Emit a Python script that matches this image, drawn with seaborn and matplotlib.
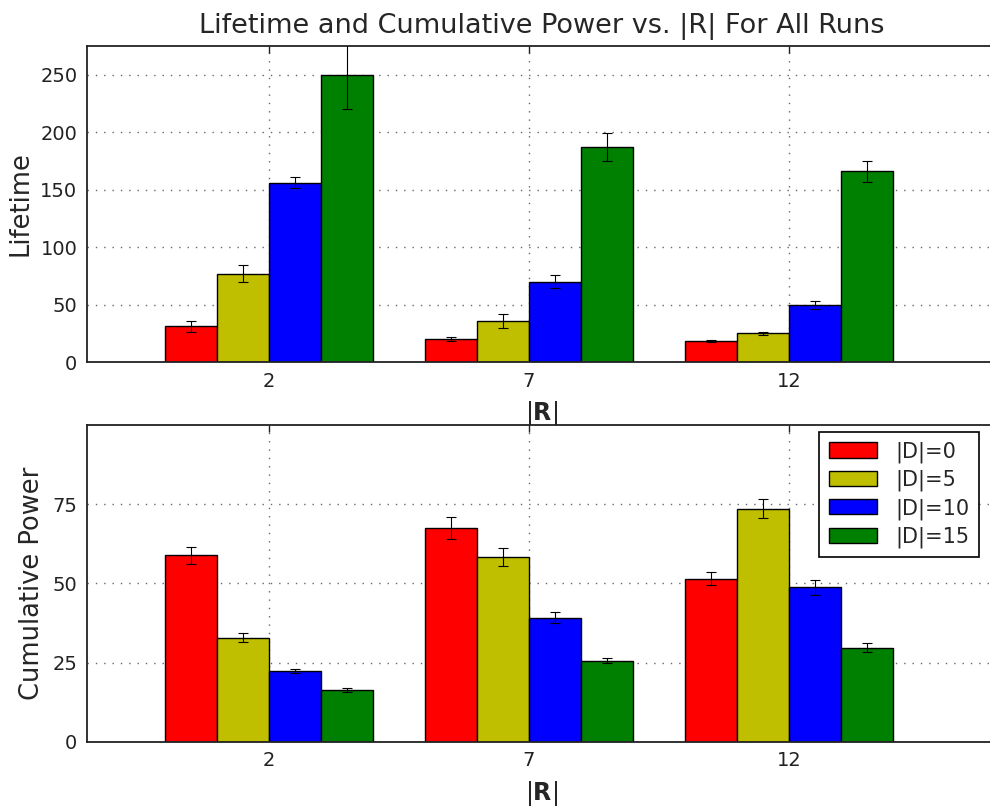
import numpy as np
import pandas as pd
import matplotlib
matplotlib.use("Agg")
import matplotlib.pyplot as plt
import seaborn as sns

# ---- data ----
r_values = [2, 7, 12]
d_labels = ["|D|=0", "|D|=5", "|D|=10", "|D|=15"]
colors = ["#ff0000", "#bfbf00", "#0000ff", "#008000"]

lifetime = {
    "|D|=0": [31, 20, 18],
    "|D|=5": [77, 36, 25],
    "|D|=10": [156, 70, 50],
    "|D|=15": [250, 187, 166],
}
lifetime_err = {
    "|D|=0": [4.5, 1.5, 1.0],
    "|D|=5": [7.4, 6.0, 1.5],
    "|D|=10": [4.6, 5.5, 3.5],
    "|D|=15": [30, 12, 9],
}
power = {
    "|D|=0": [58.8, 67.4, 51.5],
    "|D|=5": [32.9, 58.3, 73.6],
    "|D|=10": [22.3, 39.1, 48.7],
    "|D|=15": [16.3, 25.5, 29.7],
}
power_err = {
    "|D|=0": [2.7, 3.4, 2.0],
    "|D|=5": [1.5, 2.8, 3.1],
    "|D|=10": [0.6, 1.7, 2.3],
    "|D|=15": [0.5, 0.8, 1.4],
}

rows = []
for d in d_labels:
    for i, r in enumerate(r_values):
        rows.append({"R": r, "D": d,
                     "Lifetime": lifetime[d][i], "LifetimeErr": lifetime_err[d][i],
                     "Power": power[d][i], "PowerErr": power_err[d][i]})
df = pd.DataFrame(rows)

sns.set_style("white")
plt.rcParams["font.family"] = ["DejaVu Sans"]
plt.rcParams["mathtext.fontset"] = "dejavusans"

fig = plt.figure(figsize=(9.9, 8.06), dpi=100)
ax1 = fig.add_axes([87 / 990, 1 - 362 / 806, 910 / 990, 316 / 806])
ax2 = fig.add_axes([87 / 990, 1 - 741.7 / 806, 910 / 990, 316.7 / 806])

palette = dict(zip(d_labels, colors))


def draw(ax, ycol, ecol, legend):
    sns.barplot(data=df, x="R", y=ycol, hue="D", hue_order=d_labels,
                palette=palette, native_scale=True, width=0.8, dodge=True,
                saturation=1, edgecolor="black", linewidth=1.0,
                errorbar=None, legend=legend, ax=ax, zorder=2)
    for d, cont in zip(d_labels, ax.containers):
        sub = df[df["D"] == d].sort_values("R")
        bars = sorted(cont.patches, key=lambda p: p.get_x())
        xs = [b.get_x() + b.get_width() / 2 for b in bars]
        hs = [b.get_height() for b in bars]
        ax.errorbar(xs, hs, yerr=sub[ecol].values, fmt="none", ecolor="black",
                    elinewidth=0.8, capsize=3.5, capthick=0.8, zorder=3)
    ax.set_xlim(-1.5, 16)
    ax.set_xticks(r_values)
    ax.set_xticklabels([str(r) for r in r_values])
    ax.grid(True, color="#666666", linestyle=(0, (1, 5)), linewidth=1.0, zorder=0)
    ax.set_axisbelow(True)
    ax.tick_params(direction="in", top=True, right=True, length=5, width=1,
                   labelsize=14, pad=7, colors="#222222")
    for s in ax.spines.values():
        s.set_linewidth(1.3)
        s.set_color("#222222")
    ax.set_xlabel(r"$|\mathbf{R}|$", fontsize=17, labelpad=6)


draw(ax1, "Lifetime", "LifetimeErr", False)
ax1.set_ylim(0, 275)
ax1.set_yticks([0, 50, 100, 150, 200, 250])
ax1.set_ylabel("Lifetime", fontsize=18.5, labelpad=5)
ax1.set_title("Lifetime and Cumulative Power vs. |R| For All Runs", fontsize=19.5, pad=9)

draw(ax2, "Power", "PowerErr", True)
ax2.set_ylim(0, 100)
ax2.set_yticks([0, 25, 50, 75])
ax2.set_ylabel("Cumulative Power", fontsize=18.5, labelpad=5)
sns.move_legend(ax2, "upper right", bbox_to_anchor=(0.980, 0.978), borderaxespad=0,
                title=None, frameon=True, fancybox=False, framealpha=1,
                edgecolor="black", fontsize=15, handlelength=2.3, handleheight=0.75,
                labelspacing=0.33, handletextpad=0.9, borderpad=0.45)
ax2.get_legend().get_frame().set_linewidth(1.2)

fig.savefig("out.png", dpi=100)
